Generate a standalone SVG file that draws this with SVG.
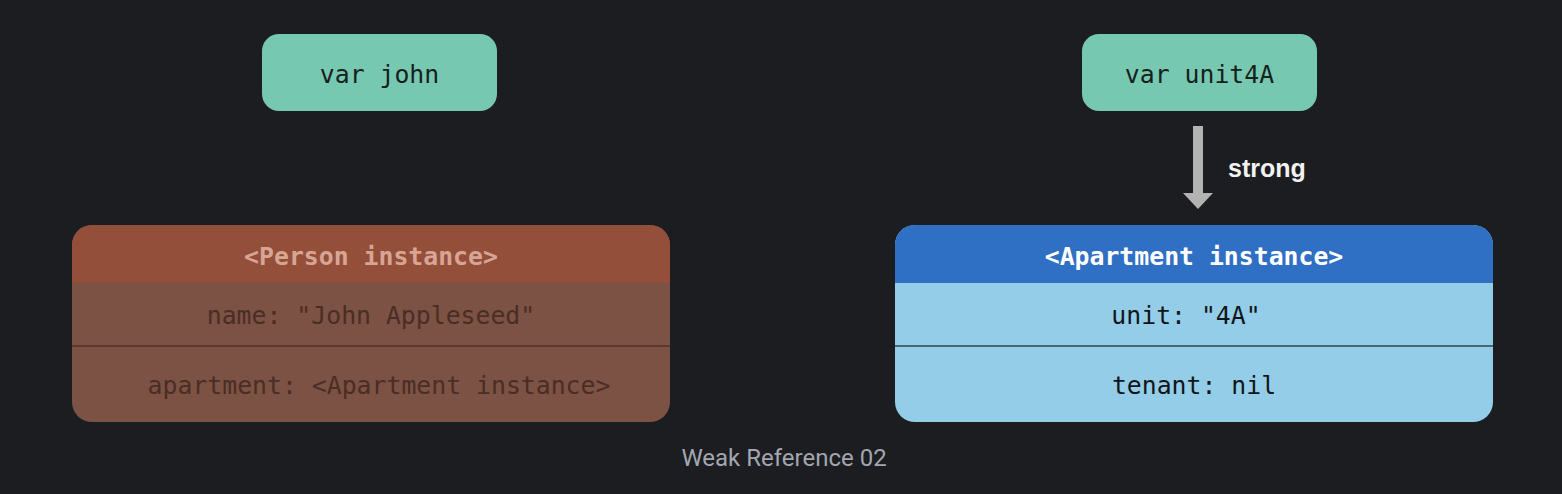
<svg xmlns="http://www.w3.org/2000/svg" width="1562" height="494" viewBox="0 0 1562 494">
<defs>
<style>
.mono{font-family:"DejaVu Sans Mono","Liberation Mono",monospace;font-size:24.8px;text-anchor:middle;dominant-baseline:central}
.var{fill:#76c8b0}
.vt{fill:#16201d}
.ph{fill:#934f3a}
.pb{fill:#7c5244}
.pht{fill:#d8a594}
.pbt{fill:#4a2d24}
.pdiv{stroke:#5b3a30;stroke-width:2}
.ah{fill:#2f6fc4}
.ab{fill:#94cde8}
.aht{fill:#ffffff}
.abt{fill:#111417}
.adiv{stroke:#4b6674;stroke-width:2}
</style>
</defs>
<rect width="1562" height="494" fill="#1b1d20"/>
<g id="var-john">
<rect class="var" x="262" y="34" width="235" height="77" rx="17"/>
<text class="mono vt" x="379.5" y="74">var john</text>
</g>
<g id="var-unit4A">
<rect class="var" x="1082" y="34" width="235" height="77" rx="17"/>
<text class="mono vt" x="1199.5" y="74">var unit4A</text>
</g>
<g id="person">
<rect class="pb" x="72" y="225" width="598" height="197" rx="20"/>
<path class="ph" d="M72 283 V245 A20 20 0 0 1 92 225 H650 A20 20 0 0 1 670 245 V283 Z"/>
<line class="pdiv" x1="72" y1="346" x2="670" y2="346"/>
<text class="mono pht" x="371" y="256" font-weight="bold">&lt;Person instance&gt;</text>
<text class="mono pbt" x="371" y="315">name: "John Appleseed"</text>
<text class="mono pbt" x="379" y="385">apartment: &lt;Apartment instance&gt;</text>
</g>
<g id="apartment">
<rect class="ab" x="895" y="225" width="598" height="197" rx="20"/>
<path class="ah" d="M895 283 V245 A20 20 0 0 1 915 225 H1473 A20 20 0 0 1 1493 245 V283 Z"/>
<line class="adiv" x1="895" y1="346" x2="1493" y2="346"/>
<text class="mono aht" x="1194" y="256" font-weight="bold">&lt;Apartment instance&gt;</text>
<text class="mono abt" x="1186" y="315">unit: "4A"</text>
<text class="mono abt" x="1194" y="385">tenant: nil</text>
</g>
<g id="connectors">
<path d="M1193 126 H1203 V193 H1213 L1198 209 L1183 193 H1193 Z" fill="#b3b3b3"/>
<text x="1228" y="177" font-family="Liberation Sans, Arial, sans-serif" font-size="25" font-weight="bold" fill="#f2f2f2">strong</text>
</g>
<text x="784" y="466" font-family="Roboto, Liberation Sans, sans-serif" font-size="24" fill="#a3a6b0" text-anchor="middle">Weak Reference 02</text>
</svg>
